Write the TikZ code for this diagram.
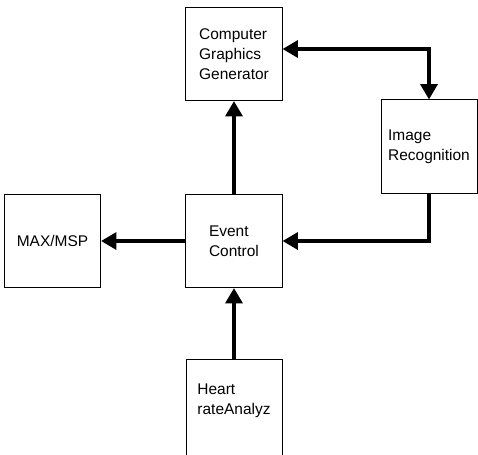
\documentclass[tikz,border=0pt]{standalone}
\usepackage{fontspec}
\setmainfont{Liberation Sans}
\usepackage{tikz}
\usetikzlibrary{
  arrows.meta
}

\begin{document}
\begin{tikzpicture}[%詳細設定
          x=0.025cm,y=-0.025cm,
          >={Triangle[length=11pt,width=12pt]},
          block/.style={
              draw,
              line width=0.7pt,
              minimum width=2.4cm,
              minimum height=2.325cm,
              align=left,
              font=\fontsize{11}{14.2}\selectfont
            },flow/.style={
              line width=2.8pt,
              ->
            }
        ]

        % 描画範囲
        \useasboundingbox (0,0) rectangle (478,454);
        \clip (0,0) rectangle (478,454);

        % ブロック
        \node[block] (cgg) at (234,54) {Computer\\Graphics\\Generator};
        \node[block] (imgrec) at (429,146.5) {Image\\Recognition};
        \node[block] (event) at (234,241) {Event\\Control};
        \node[block] (maxmsp) at (52.5,241) {MAX/MSP};

        % 下のブロック(下端は範囲外)
        \node[block,draw=none] (heart) at (234,401) {Heart\\rateAnalyz};
        \coordinate (heart_top) at (234,359);
        \draw[line width=0.7pt] (186,470) |- (282,359) -- (282,470);

        % 矢印
        \draw[flow] (event) -- (cgg);
        \draw[flow,<->] ([yshift=0.125cm]cgg.east) -| (imgrec);
        \draw[flow] (imgrec) |- (event);
        \draw[flow] (event) -- (maxmsp);
        \draw[flow] (heart_top) -- (event);
      \end{tikzpicture}
\end{document}
